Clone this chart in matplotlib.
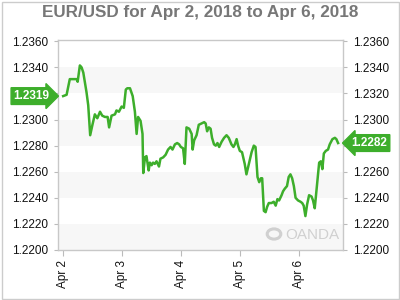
import matplotlib
matplotlib.use("Agg")
import matplotlib.pyplot as plt
import matplotlib.transforms as mtransforms
from matplotlib.patches import Rectangle, Circle

plt.rcParams['font.family'] = ['Liberation Sans', 'DejaVu Sans']

title = "EUR/USD for Apr 2, 2018 to Apr 6, 2018"
day_labels = ["Apr 2", "Apr 3", "Apr 4", "Apr 5", "Apr 6"]
day_hours = [0, 24, 48, 72, 96]
y_ticks = [1.2200, 1.2220, 1.2240, 1.2260, 1.2280, 1.2300, 1.2320, 1.2340, 1.2360]

# hours since Apr 2 00:00
hours = [0.1, 1.5, 2.8, 3.8, 4.6, 5.6, 6.0, 6.9, 7.6, 8.3, 9.6, 10.3, 11.1, 11.9, 13.0,
         14.0, 15.1, 16.0, 17.1, 18.2, 18.8, 19.8, 21.2, 21.8, 22.8, 23.9, 24.8, 25.6,
         26.2, 27.3, 28.4, 29.3, 30.0, 30.6, 31.6, 32.4, 32.7, 33.4, 34.0, 34.9, 35.4,
         36.1, 36.7, 37.4, 38.1, 39.1, 39.7, 40.8, 41.8, 42.8, 43.8, 44.6, 45.6, 46.5,
         47.3, 48.0, 48.9, 49.6, 50.3, 51.4, 52.4, 52.8, 53.4, 54.4, 55.3, 56.4, 57.5,
         58.1, 58.7, 59.4, 60.1, 60.7, 61.5, 62.2, 62.9, 63.6, 64.6, 65.6, 66.6, 67.5,
         68.6, 69.4, 70.0, 70.7, 71.3, 72.0, 72.9, 74.0, 74.7, 75.7, 76.8, 77.7, 78.4,
         79.2, 79.9, 80.6, 81.1, 81.8, 82.5, 83.1, 83.8, 84.9, 85.8, 86.6, 87.3, 88.0,
         89.0, 89.6, 90.3, 91.2, 91.9, 92.6, 93.3, 94.0, 94.7, 95.7, 96.7, 97.4, 98.0,
         98.7, 99.4, 100.2, 101.2, 101.8, 102.5, 103.6, 104.3, 105.0, 105.6, 106.2,
         107.0, 107.9, 108.6, 109.7, 110.7, 111.3, 112.0]
prices = [1.2318, 1.2319, 1.2331, 1.2331, 1.2331, 1.2331, 1.2329, 1.23415, 1.2340, 1.2336,
          1.2321, 1.2311, 1.2288, 1.2295, 1.2304, 1.2301, 1.2306, 1.2303, 1.2302, 1.2302,
          1.2294, 1.2303, 1.2304, 1.2307, 1.2306, 1.2310, 1.2309, 1.2323, 1.2324, 1.2324,
          1.2318, 1.2306, 1.2289, 1.2302, 1.2299, 1.2289, 1.2259, 1.2271, 1.2272, 1.2261,
          1.2267, 1.2265, 1.2267, 1.2266, 1.2268, 1.2264, 1.2270, 1.2271, 1.2273, 1.2277,
          1.2279, 1.2277, 1.2281, 1.2282, 1.2281, 1.2279, 1.2278, 1.2266, 1.2294, 1.2293,
          1.2289, 1.2277, 1.2284, 1.2288, 1.2296, 1.2297, 1.2298, 1.2297, 1.2291, 1.2294,
          1.2293, 1.2286, 1.2281, 1.2280, 1.2282, 1.2279, 1.2283, 1.2286, 1.2288, 1.2286,
          1.2281, 1.2279, 1.2281, 1.2285, 1.2280, 1.2276, 1.2275, 1.2266, 1.2258, 1.2266,
          1.2275, 1.2280, 1.2279, 1.2256, 1.2252, 1.2255, 1.2255, 1.2230, 1.2229, 1.2233,
          1.2236, 1.2236, 1.2237, 1.2234, 1.2239, 1.2238, 1.2242, 1.2245, 1.2247, 1.2249,
          1.2256, 1.2258, 1.2255, 1.2249, 1.2240, 1.2238, 1.2237, 1.2236, 1.2234, 1.2226,
          1.2235, 1.2242, 1.2241, 1.2238, 1.2232, 1.2253, 1.2267, 1.2268, 1.2262, 1.2274,
          1.2276, 1.2277, 1.2281, 1.2285, 1.2286, 1.2285, 1.2282]
first_label = "1.2319"
last_label = "1.2282"

green = "#3dae2b"
fig = plt.figure(figsize=(4, 3), dpi=100)
fig.patch.set_facecolor("white")
ax = fig.add_axes([58 / 400, 1 - 250 / 300, 285 / 400, 210 / 300])

# bands
for lo in [1.2200, 1.2240, 1.2280, 1.2320]:
    ax.axhspan(lo, lo + 0.0020, color="#f7f7f7", lw=0, zorder=0)

ax.plot(hours, prices, color=green, lw=1.8, zorder=3, solid_joinstyle="round")

ax.set_xlim(-2, 114)
ax.set_ylim(1.2200, 1.2361)
ax.set_yticks(y_ticks)
ax.set_yticklabels([f"{v:.4f}" for v in y_ticks])
ax.set_xticks(day_hours)
ax.set_xticklabels(day_labels, rotation=90)
ax.tick_params(axis="y", which="both", left=True, right=True, labelleft=True,
               labelright=True, length=3, width=0.8, color="#bbbbbb",
               labelsize=8.5, labelcolor="#111111", pad=4)
ax.tick_params(axis="x", length=4, width=0.8, color="#bbbbbb", labelsize=8.5,
               labelcolor="#111111", pad=3)
for s in ax.spines.values():
    s.set_color("#c8c8c8")
    s.set_linewidth(1)

# tick labels hidden behind the price tags
fig.canvas.draw()
for t in ax.yaxis.get_ticklabels(which="major"):
    pass
for tick in ax.yaxis.get_major_ticks():
    v = round(tick.get_loc(), 4)
    if abs(v - 1.2320) < 1e-6:
        tick.label1.set_visible(False)
    if abs(v - 1.2280) < 1e-6:
        tick.label2.set_visible(False)

# price labels
trans = mtransforms.blended_transform_factory(ax.transAxes, ax.transData)
ax.text(-0.03, prices[0], first_label, transform=trans, ha="right", va="center",
        color="white", fontsize=8.5, fontweight="bold", zorder=5,
        bbox=dict(boxstyle="rarrow,pad=0.2", fc=green, ec=green), clip_on=False)
ax.text(1.03, prices[-1], last_label, transform=trans, ha="left", va="center",
        color="white", fontsize=8.5, fontweight="bold", zorder=5,
        bbox=dict(boxstyle="larrow,pad=0.2", fc=green, ec=green), clip_on=False)

# watermark
fig.text(285 / 400, 1 - 239 / 300, "OANDA", fontsize=11, color="#d0d0d0",
         ha="left", va="baseline")
fig.patches.append(Circle((274 / 400, 1 - 234 / 300), 0.017, transform=fig.transFigure,
                          fc="none", ec="#d0d0d0", lw=2.2))

fig.text(0.5, 1 - 13 / 300, title, ha="center", va="center", fontsize=12.3,
         fontweight="bold", color="#777777")

fig.patches.append(Rectangle((1.5 / 400, 1.5 / 300), 397 / 400, 297 / 300,
                             transform=fig.transFigure, fill=False, ec="#cccccc", lw=1))

fig.savefig("out.png", dpi=100)
